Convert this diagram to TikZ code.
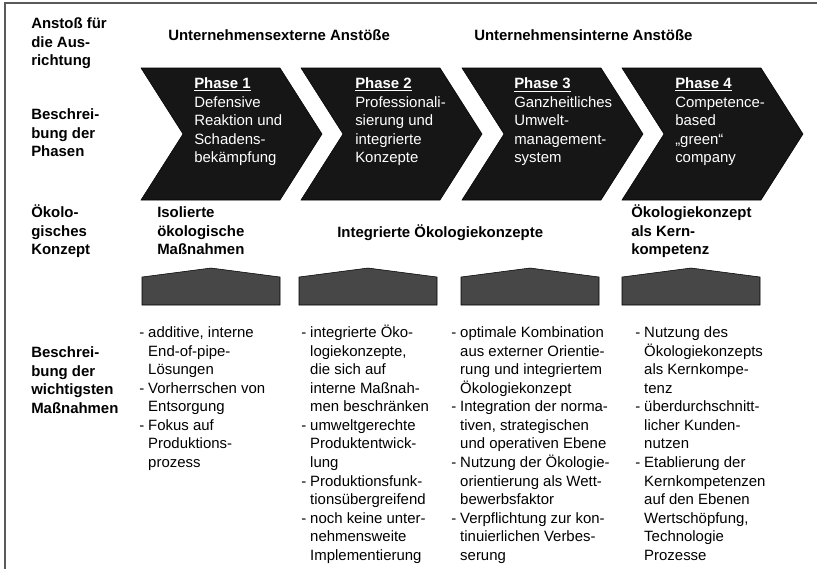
\documentclass[tikz,border=0pt]{standalone}
\usepackage{fontspec}
\setmainfont{Liberation Sans}
\usepackage{xcolor}
\usepackage{tikz}

\definecolor{chevronblack}{HTML}{161616}
\definecolor{roofgray}{HTML}{474747}
\definecolor{framegray}{HTML}{5A5A5A}

\newcommand{\bodyfont}{\fontsize{11.2}{13.9}\selectfont}

\begin{document}
\begin{tikzpicture}[x=0.75pt, y=-0.75pt,
    rowhead/.style={anchor=north west, inner sep=0pt, font=\bodyfont\bfseries},
    phasetext/.style={anchor=north west, inner sep=0pt, font=\bodyfont, text=white},
    listtext/.style={anchor=north west, inner sep=0pt, font=\bodyfont},
    chevron/.style={fill=chevronblack},
    roof/.style={fill=roofgray}]

    \useasboundingbox (0, 0) rectangle (817, 569);

    % frame
    \draw[framegray, line width=1.4pt] (817, 3) -- (5, 3) -- (5, 569);

    % row heads
    \node (anstoss) at (31, 15.5) [rowhead] {
        \begin{tabular}{@{}l@{}}
            Anstoß für \\ die Aus- \\ richtung
        \end{tabular}
    };
    \node (phasen) at (31, 106.5) [rowhead] {
        \begin{tabular}{@{}l@{}}
            Beschrei- \\ bung der \\ Phasen
        \end{tabular}
    };
    \node (konzept) at (31, 204.5) [rowhead] {
        \begin{tabular}{@{}l@{}}
            Ökolo- \\ gisches \\ Konzept
        \end{tabular}
    };
    \node (massnahmen) at (31, 344.5) [rowhead] {
        \begin{tabular}{@{}l@{}}
            Beschrei- \\ bung der \\ wichtigsten \\ Maßnahmen
        \end{tabular}
    };

    % impulses
    \node (extern) at (168, 29.5) [rowhead] {Unternehmensexterne Anstöße};
    \node (intern) at (474, 29.5) [rowhead] {Unternehmensinterne Anstöße};

    % phase chevrons
    \draw[chevron] (141, 68) -- (280, 68) -- (322, 134) -- (280, 200) -- (141, 200) -- (183, 134) -- cycle;
    \draw[chevron] (301, 68) -- (440, 68) -- (482, 134) -- (440, 200) -- (301, 200) -- (343, 134) -- cycle;
    \draw[chevron] (462, 68) -- (601, 68) -- (643, 134) -- (601, 200) -- (462, 200) -- (504, 134) -- cycle;
    \draw[chevron] (622, 68) -- (761, 68) -- (803, 134) -- (761, 200) -- (622, 200) -- (664, 134) -- cycle;

    \node (phase1) at (194, 75.5) [phasetext] {
        \begin{tabular}{@{}l@{}}
            \underline{\textbf{Phase 1}} \\ Defensive \\ Reaktion und \\ Schadens- \\ bekämpfung
        \end{tabular}
    };
    \node (phase2) at (355, 75.5) [phasetext] {
        \begin{tabular}{@{}l@{}}
            \underline{\textbf{Phase 2}} \\ Professionali- \\ sierung und \\ integrierte \\ Konzepte
        \end{tabular}
    };
    \node (phase3) at (514, 75.5) [phasetext] {
        \begin{tabular}{@{}l@{}}
            \underline{\textbf{Phase 3}} \\ Ganzheitliches \\ Umwelt- \\ management- \\ system
        \end{tabular}
    };
    \node (phase4) at (675, 75.5) [phasetext] {
        \begin{tabular}{@{}l@{}}
            \underline{\textbf{Phase 4}} \\ Competence- \\ based \\ „green“ \\ company
        \end{tabular}
    };

    % ecological concepts
    \node (isoliert) at (157, 204.5) [rowhead] {
        \begin{tabular}{@{}l@{}}
            Isolierte \\ ökologische \\ Maßnahmen
        \end{tabular}
    };
    \node (integriert) at (337, 224.5) [rowhead] {Integrierte Ökologiekonzepte};
    \node (kern) at (631, 204.5) [rowhead] {
        \begin{tabular}{@{}l@{}}
            Ökologiekonzept \\ als Kern- \\ kompetenz
        \end{tabular}
    };

    % roofs
    \draw[roof] (142, 277) -- (211, 268) -- (280, 277) -- (280, 305) -- (142, 305) -- cycle;
    \draw[roof] (299, 277) -- (368, 268) -- (437, 277) -- (437, 305) -- (299, 305) -- cycle;
    \draw[roof] (461, 277) -- (530, 268) -- (599, 277) -- (599, 305) -- (461, 305) -- cycle;
    \draw[roof] (622, 277) -- (691, 268) -- (760, 277) -- (760, 305) -- (622, 305) -- cycle;

    % measures
    \node (liste1) at (139, 324.5) [listtext] {
        \begin{tabular}{@{}l@{\hspace{3pt}}l@{}}
            - & additive, interne \\ & End-of-pipe- \\ & Lösungen \\
            - & Vorherrschen von \\ & Entsorgung \\
            - & Fokus auf \\ & Produktions- \\ & prozess
        \end{tabular}
    };
    \node (liste2) at (301, 324.5) [listtext] {
        \begin{tabular}{@{}l@{\hspace{3pt}}l@{}}
            - & integrierte Öko- \\ & logiekonzepte, \\ & die sich auf \\ & interne Maßnah- \\ & men beschränken \\
            - & umweltgerechte \\ & Produktentwick- \\ & lung \\
            - & Produktionsfunk- \\ & tionsübergreifend \\
            - & noch keine unter- \\ & nehmensweite \\ & Implementierung
        \end{tabular}
    };
    \node (liste3) at (451, 324.5) [listtext] {
        \begin{tabular}{@{}l@{\hspace{3pt}}l@{}}
            - & optimale Kombination \\ & aus externer Orientie- \\ & rung und integriertem \\ & Ökologiekonzept \\
            - & Integration der norma- \\ & tiven, strategischen \\ & und operativen Ebene \\
            - & Nutzung der Ökologie- \\ & orientierung als Wett- \\ & bewerbsfaktor \\
            - & Verpflichtung zur kon- \\ & tinuierlichen Verbes- \\ & serung
        \end{tabular}
    };
    \node (liste4) at (635, 324.5) [listtext] {
        \begin{tabular}{@{}l@{\hspace{3pt}}l@{}}
            - & Nutzung des \\ & Ökologiekonzepts \\ & als Kernkompe- \\ & tenz \\
            - & überdurchschnitt- \\ & licher Kunden- \\ & nutzen \\
            - & Etablierung der \\ & Kernkompetenzen \\ & auf den Ebenen \\ & Wertschöpfung, \\ & Technologie \\ & Prozesse
        \end{tabular}
    };
\end{tikzpicture}
\end{document}
